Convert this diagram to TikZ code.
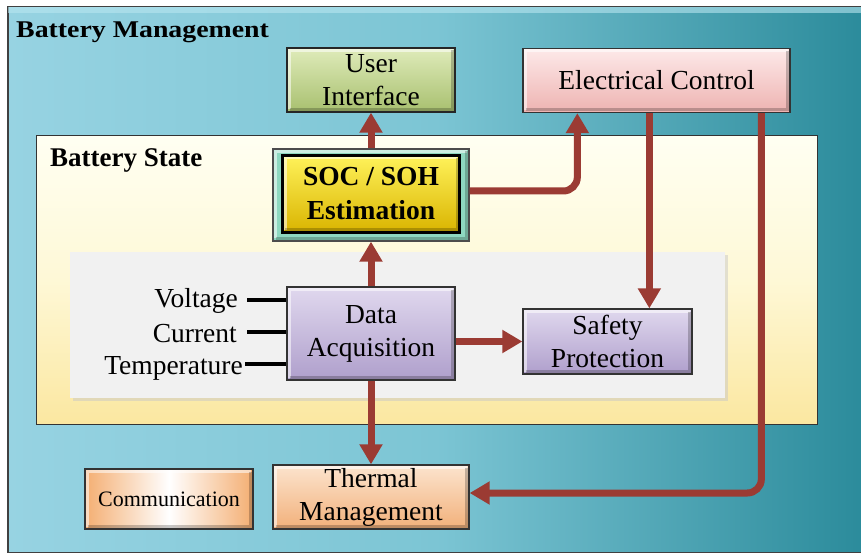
\documentclass[tikz,border=0pt]{standalone}
\usepackage{fontspec}
\setmainfont{Liberation Serif}
\newfontfamily\widebold{Liberation Serif}[FakeStretch=1.16]
\usetikzlibrary{arrows.meta,calc,shadows}
\definecolor{arrowred}{HTML}{9B3B33}
\definecolor{bgLeft}{HTML}{97D3E2}
\definecolor{bgMid}{HTML}{7CC5D4}
\definecolor{bgRight}{HTML}{2B8B9B}
\definecolor{bgTop}{HTML}{B8E6F0}
\definecolor{stateTop}{HTML}{FFFFF2}
\definecolor{stateMid}{HTML}{FEF8D6}
\definecolor{stateBot}{HTML}{FBE7A0}
\definecolor{panel}{HTML}{F1F1F1}
\definecolor{uiTop}{HTML}{DFEBBA}
\definecolor{uiBot}{HTML}{A8C06F}
\definecolor{ecTop}{HTML}{FDE9E9}
\definecolor{ecBot}{HTML}{EEB3B1}
\definecolor{mint}{HTML}{8ED8C0}
\definecolor{socTop}{HTML}{FFF25A}
\definecolor{socBot}{HTML}{D9B400}
\definecolor{daTop}{HTML}{E0D8EE}
\definecolor{daBot}{HTML}{AF9FCC}
\definecolor{tmTop}{HTML}{FCE4CE}
\definecolor{tmBot}{HTML}{F2B07A}
\definecolor{orangeEdge}{HTML}{F4AE72}
\begin{document}
\begin{tikzpicture}[x=1pt,y=-1pt,
  box/.style={draw=black!80, line width=1.3pt, align=center, inner sep=0pt,
    font=\fontsize{27.5}{33}\selectfont, bevel},
  bevel/.style={path picture={
    \draw[white, opacity=0.55, line width=3pt]
      ([shift={(2.5pt,2.5pt)}]path picture bounding box.south west) |-
      ([shift={(-2.5pt,-2.5pt)}]path picture bounding box.north east);
    \draw[black, opacity=0.22, line width=3pt]
      ([shift={(2.5pt,2.5pt)}]path picture bounding box.south west) -|
      ([shift={(-2.5pt,-2.5pt)}]path picture bounding box.north east);}},
  arr/.style={draw=arrowred, line width=7pt, -{Triangle[width=22pt,length=20pt]}},
  wire/.style={draw=black, line width=3.5pt},
  lbl/.style={inner sep=0pt, font=\fontsize{27.5}{33}\selectfont}]
\useasboundingbox (0,0) rectangle (861,553);
\fill[white] (0,0) rectangle (861,553);

% outer frame: battery management
\node[draw=black!75, line width=1.5pt, left color=bgLeft, right color=bgRight, middle color=bgMid,
      minimum width=856pt, minimum height=546pt, inner sep=0pt, anchor=north west] (bm) at (7,6) {};
\fill[bgTop, opacity=0.6] ([shift={(1pt,-1pt)}]bm.north west) rectangle ([shift={(0pt,-7pt)}]bm.north east);
\node[anchor=base west, inner sep=0pt, font=\widebold\bfseries\fontsize{24}{28}\selectfont] (bmtitle) at (16,38) {Battery Management};

% battery state region
\node[draw=black!80, line width=1.3pt, top color=stateTop, bottom color=stateBot, middle color=stateMid,
      minimum width=781pt, minimum height=289pt, inner sep=0pt, anchor=north west] (bs) at (36,135) {};
\node[anchor=base west, inner sep=0pt, font=\bfseries\fontsize{27}{32}\selectfont] (bstitle) at (50,167) {Battery State};

% acquisition panel
\node[fill=panel, drop shadow={shadow xshift=3pt, shadow yshift=-3pt, fill=black!22},
      minimum width=655pt, minimum height=146pt, inner sep=0pt, anchor=north west] (pn) at (70,252) {};

% blocks
\node[box, draw=black!85, top color=uiTop, bottom color=uiBot, minimum width=168pt, minimum height=64pt] (ui) at (371,80) {User\\Interface};
\node[box, top color=ecTop, bottom color=ecBot, minimum width=267pt, minimum height=64pt] (ec) at (656.5,80.5) {Electrical Control};
\node[box, draw=black!70, fill=mint, minimum width=196pt, minimum height=92pt] (soc) at (371,195) {};
\node[box, draw=black, line width=2.5pt, top color=socTop, bottom color=socBot, minimum width=177pt, minimum height=77pt,
      font=\bfseries\fontsize{27.5}{34}\selectfont] (socin) at (371,194) {SOC / SOH\\Estimation};
\node[box, top color=daTop, bottom color=daBot, minimum width=168pt, minimum height=93pt] (da) at (371,333.5) {Data\\Acquisition};
\node[box, top color=daTop, bottom color=daBot, minimum width=169pt, minimum height=65pt] (sp) at (607.5,341.5) {Safety\\Protection};
\node[box, top color=tmTop, bottom color=tmBot, minimum width=196pt, minimum height=64pt] (tm) at (371,497) {Thermal\\Management};
\node[box, left color=orangeEdge, right color=orangeEdge, middle color=white, minimum width=168pt, minimum height=60pt,
      font=\fontsize{22}{26}\selectfont] (cm) at (169,499) {Communication};

% measured quantities
\node[lbl, anchor=base east] (volt) at (238,307) {Voltage};
\node[lbl, anchor=base east] (curr) at (237,342) {Current};
\node[lbl, anchor=base east] (temp) at (243,374) {Temperature};
\coordinate (vin) at (247,300);
\coordinate (cin) at (247,332);
\coordinate (tin) at (245,364);
\draw[wire] (vin) -- (vin -| da.west);
\draw[wire] (cin) -- (cin -| da.west);
\draw[wire] (tin) -- (tin -| da.west);

% signal flow
\path (ec.south west) ++(55,0) coordinate (ecA);
\path (ec.south west) ++(127,0) coordinate (ecB);
\path (ec.south west) ++(239,0) coordinate (ecC);
\draw[arr] (da.north) -- (soc.south);
\draw[arr] (soc.north) -- (ui.south);
\draw[arr, rounded corners=14pt] ($(soc.east)+(0,-4)$) -| (ecA);
\draw[arr] (ecB) -- (ecB |- sp.north);
\draw[arr, rounded corners=14pt] (ecC) |- ($(tm.east)+(0,-4)$);
\draw[arr] (da.east |- sp.west) -- (sp.west);
\draw[arr] (da.south) -- (tm.north);
\end{tikzpicture}
\end{document}
